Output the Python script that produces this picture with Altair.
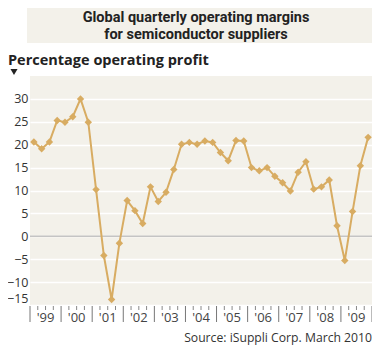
import altair as alt
import pandas as pd

# ---- data ----
years = ["'99", "'00", "'01", "'02", "'03", "'04", "'05", "'06", "'07", "'08", "'09"]
margins = [
    20.6, 19.1, 20.6, 25.3,
    24.9, 26.1, 30.0, 24.9,
    10.2, -4.2, -13.8, -1.5,
    7.8, 5.6, 2.8, 10.8,
    7.6, 9.6, 14.6, 20.1,
    20.5, 20.1, 20.8, 20.5,
    18.3, 16.5, 20.9, 20.8,
    15.0, 14.3, 15.0, 13.1,
    11.7, 9.9, 14.0, 16.3,
    10.3, 10.8, 12.3, 2.3,
    -5.3, 5.4, 15.4, 21.6,
]
y_ticks = [-15, -10, -5, 0, 5, 10, 15, 20, 25, 30]
title_text = "Global quarterly operating margins\nfor semiconductor suppliers"
y_title = "Percentage operating profit"
source = "Source: iSuppli Corp. March 2010"

FONT = "Open Sans"
TFONT = "Roboto"
LINE = "#d8ac62"
BG = "#f3f1ea"
W, H = 342, 229
PL, PT = 22, 68
PB = 339 - PT - H

n_q = len(margins)
df = pd.DataFrame({"q": [i + 0.5 for i in range(n_q)], "v": margins})
bounds = pd.DataFrame({"b": list(range(n_q + 1))})
bounds["major"] = bounds["b"] % 4 == 0
yr = pd.DataFrame({"year": years, "mid": [4 * i + 2 for i in range(len(years))]})

xs = alt.Scale(domain=[0, n_q], nice=False, zero=False)
ys = alt.Scale(domain=[-15, 35], nice=False, zero=False)
yax = alt.Axis(values=y_ticks, title=None)

base_line = alt.Chart(df).mark_line(color=LINE, strokeWidth=2).encode(
    x=alt.X("q:Q", scale=xs, axis=None),
    y=alt.Y("v:Q", scale=ys, axis=yax),
)
points = alt.Chart(df).mark_point(shape="diamond", filled=True, size=55,
                                   color=LINE, opacity=1).encode(
    x=alt.X("q:Q", scale=xs, axis=None), y=alt.Y("v:Q", scale=ys, axis=yax))

zero = alt.Chart(pd.DataFrame({"z": [0]})).mark_rule(color="#c4c4c4", strokeWidth=1.5).encode(
    y=alt.Y("z:Q", scale=ys, axis=yax))

major = alt.Chart(bounds[bounds["major"]]).mark_rule(color="#777777", strokeWidth=1).encode(
    x=alt.X("b:Q", scale=xs, axis=None), y=alt.value(H + 1), y2=alt.value(H + 17))
minor = alt.Chart(bounds[~bounds["major"]]).mark_rule(color="#888888", strokeWidth=1).encode(
    x=alt.X("b:Q", scale=xs, axis=None), y=alt.value(H + 1), y2=alt.value(H + 5))
year_lbl = alt.Chart(yr).mark_text(font=FONT, fontSize=13, color="#444444",
                                   baseline="alphabetic", align="center").encode(
    x=alt.X("mid:Q", scale=xs, axis=None), y=alt.value(H + 17), text="year:N")

title_box = alt.Chart(pd.DataFrame({"a": [0]})).mark_rect(color=BG).encode(
    x=alt.value(-3), x2=alt.value(W), y=alt.value(-PT), y2=alt.value(-33))
title = alt.Chart(pd.DataFrame({"t": [title_text]})).mark_text(
    font=TFONT, fontSize=14.5, fontWeight="bold", color="#222222", align="center",
    baseline="alphabetic", lineBreak="\n", lineHeight=17.2).encode(
    x=alt.value(166), y=alt.value(-54.2), text="t:N")
yt = alt.Chart(pd.DataFrame({"t": [y_title]})).mark_text(
    font=FONT, fontSize=14.5, fontWeight="bold", color="#222222", align="left",
    baseline="alphabetic").encode(x=alt.value(-PL), y=alt.value(-11), text="t:N")
tri = alt.Chart(pd.DataFrame({"a": [0]})).mark_point(
    shape="triangle-down", filled=True, size=50, color="#222222", opacity=1).encode(
    x=alt.value(-16), y=alt.value(-4))
src = alt.Chart(pd.DataFrame({"t": [source]})).mark_text(
    font=FONT, fontSize=12.2, color="#333333", align="right",
    baseline="alphabetic").encode(x=alt.value(W), y=alt.value(H + 37), text="t:N")

chart = alt.layer(
    zero, base_line, points, major, minor, year_lbl, title_box, title, yt, tri, src
).properties(
    width=W, height=H,
    autosize=alt.AutoSizeParams(type="none"),
    padding={"left": PL, "top": PT, "right": 0, "bottom": PB},
    background="white",
).configure_view(fill=BG, strokeWidth=0).configure_axisY(
    grid=True, gridColor="#ffffff", gridWidth=1.5, gridOpacity=1,
    domain=False, ticks=False, labelPadding=2, labelFontSize=12.5,
    labelColor="#333333", labelFont=FONT, labelFlush=True, labelOverlap=False,
)

chart.save("out.html", embed_options={"renderer": "svg", "actions": False})
